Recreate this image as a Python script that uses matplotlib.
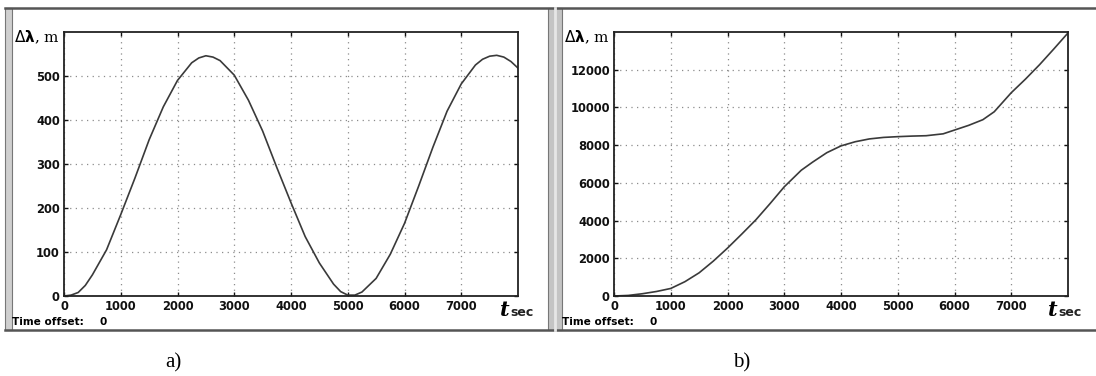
import matplotlib
matplotlib.use("Agg")
from matplotlib import pyplot as plt
from matplotlib.patches import Rectangle
from matplotlib.lines import Line2D

# panel a) - wavelength deviation, periodic
t_a = [0, 125, 250, 375, 500, 750, 1000, 1250, 1500, 1750, 2000, 2250, 2375, 2500,
       2625, 2750, 3000, 3250, 3500, 3750, 4000, 4250, 4500, 4750, 4875, 5000,
       5125, 5250, 5500, 5750, 6000, 6250, 6500, 6750, 7000, 7250, 7375, 7500,
       7625, 7750, 7875, 8000]
dl_a = [0, 2, 8, 24, 48, 105, 185, 268, 355, 430, 490, 530, 541, 546,
        543, 535, 502, 445, 375, 292, 212, 135, 75, 27, 10, 2,
        2, 9, 40, 95, 165, 250, 338, 420, 482, 525, 538, 545,
        547, 543, 533, 518]

# panel b) - wavelength deviation, growing
t_b = [0, 250, 500, 750, 1000, 1250, 1500, 1750, 2000, 2250, 2500, 2750, 3000,
       3300, 3500, 3750, 4000, 4250, 4500, 4750, 5000, 5250, 5500, 5800, 6000,
       6250, 6500, 6700, 7000, 7250, 7500, 7750, 8000]
dl_b = [0, 30, 120, 240, 400, 760, 1230, 1850, 2540, 3280, 4040, 4900, 5790,
        6670, 7100, 7600, 7960, 8180, 8330, 8410, 8450, 8480, 8500, 8600, 8800,
        9050, 9350, 9770, 10780, 11500, 12270, 13100, 13950]

xticks = [0, 1000, 2000, 3000, 4000, 5000, 6000, 7000]
yticks_a = [0, 100, 200, 300, 400, 500]
yticks_b = [0, 2000, 4000, 6000, 8000, 10000, 12000]

W, H = 1096, 376
fig = plt.figure(figsize=(W / 100, H / 100), dpi=100)
fig.patch.set_facecolor("white")


def fx(px):
    return px / W


def fy(py):
    return 1 - py / H


# outer frame lines of the two screenshots
for y in (8, 330):
    fig.add_artist(Line2D([fx(5), 1], [fy(y), fy(y)], color="#555555", lw=1.8))
fig.add_artist(Rectangle((fx(5), fy(330)), fx(7), fy(8) - fy(330), facecolor="#cfcfcf",
                         edgecolor="#777777", lw=0.8))
fig.add_artist(Rectangle((fx(548), fy(330)), fx(14), fy(8) - fy(330), facecolor="#c4c4c4",
                         edgecolor="#777777", lw=0.8))
fig.add_artist(Line2D([fx(555), fx(555)], [fy(330), fy(8)], color="#e6e6e6", lw=2))

panels = [
    (64, t_a, dl_a, yticks_a, 600, 12, 500, "a)", 173),
    (614, t_b, dl_b, yticks_b, 14000, 562, 1048, "b)", 742),
]

for x0, t, dl, yt, ytop, tx, lx, tag, tagx in panels:
    ax = fig.add_axes([fx(x0), fy(296), fx(454), fy(32) - fy(296)])
    ax.plot(t, dl, color="#3a3a3a", lw=1.2)
    ax.set_xlim(0, 8000)
    ax.set_ylim(0, ytop)
    ax.set_xticks(xticks)
    ax.set_yticks(yt)
    ax.set_xticklabels([str(v) for v in xticks], fontweight="bold")
    ax.set_yticklabels([str(v) for v in yt], fontweight="bold")
    ax.tick_params(direction="in", top=True, right=True, length=3, width=1,
                   labelsize=8.3, pad=3, colors="#111111")
    ax.grid(True, color="#8c8c8c", linestyle=(0, (1, 3.5)), lw=0.9)
    for s in ax.spines.values():
        s.set_linewidth(1.3)
        s.set_color("#222222")

    # axis captions
    fig.text(fx(x0 - 50), fy(37), r"$\Delta\boldsymbol{\lambda}$, m", fontsize=11,
             family="DejaVu Serif", va="center", ha="left")
    fig.text(fx(lx), fy(310), "t", fontsize=15, family="DejaVu Serif",
             fontweight="bold", style="italic", va="center", ha="left")
    fig.text(fx(lx + 10), fy(312), "sec", fontsize=9, fontweight="bold",
             va="center", ha="left", color="#222222")
    fig.text(fx(tx), fy(322), "Time offset:", fontsize=7.6, fontweight="bold",
             va="center", ha="left")
    fig.text(fx(tx + 87), fy(322), "0", fontsize=7.6, fontweight="bold",
             va="center", ha="left")
    fig.text(fx(tagx), fy(363), tag, fontsize=15, family="Liberation Serif",
             va="center", ha="center")

fig.savefig("out.png", dpi=100)
